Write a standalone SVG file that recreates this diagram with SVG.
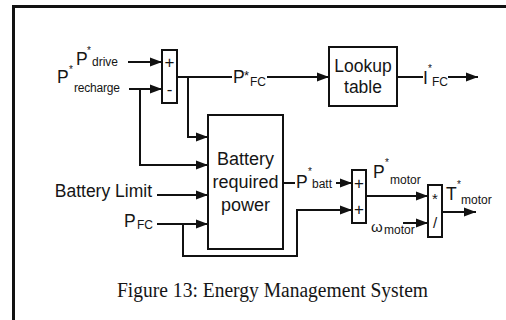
<svg xmlns="http://www.w3.org/2000/svg" width="506" height="320" viewBox="0 0 506 320">
<style>
.ln{fill:none;stroke:#111;stroke-width:2}
.bx{fill:#fff;stroke:#111;stroke-width:2}
.t{font-family:"Liberation Sans",Arial,sans-serif;fill:#151515}
.m{font-size:17.5px}
.s{font-size:12px}
.sup{font-size:10px}
.c{text-anchor:middle}
.cap{font-family:"Liberation Serif","Times New Roman",serif;font-size:20.5px;fill:#151515}
</style>
<defs>
<marker id="ah" markerUnits="userSpaceOnUse" markerWidth="14" markerHeight="12" refX="12" refY="6" orient="auto">
<path d="M0,1.5 L12,6 L0,10.5 Z" fill="#111"/>
</marker>
</defs>
<rect width="506" height="320" fill="#fff"/>
<g id="frame">
<path d="M13.5,320 V6.5 H506" fill="none" stroke="#111" stroke-width="3"/>
</g>
<g id="connectors">
<path class="ln" d="M128,62 H162" marker-end="url(#ah)"/>
<path class="ln" d="M129,89 H162" marker-end="url(#ah)"/>
<path class="ln" d="M140,89 V165 H208" marker-end="url(#ah)"/>
<path class="ln" d="M177,77 H232"/>
<path class="ln" d="M188,77 V137 H208" marker-end="url(#ah)"/>
<path class="ln" d="M267,77 H329" marker-end="url(#ah)"/>
<path class="ln" d="M397,77 H423"/>
<path class="ln" d="M448,77 H478" marker-end="url(#ah)"/>
<path class="ln" d="M157,195 H208" marker-end="url(#ah)"/>
<path class="ln" d="M157,224 H208" marker-end="url(#ah)"/>
<path class="ln" d="M183,224 V256 H297 V210 H352" marker-end="url(#ah)"/>
<path class="ln" d="M283,183 H295"/>
<path class="ln" d="M336,183 H352" marker-end="url(#ah)"/>
<path class="ln" d="M366,196 H428" marker-end="url(#ah)"/>
<path class="ln" d="M403,223 H428" marker-end="url(#ah)"/>
<path class="ln" d="M442,212 H476" marker-end="url(#ah)"/>
</g>
<g id="sum1">
<rect class="bx" x="162" y="50" width="15" height="53"/>
<text class="t c" x="169.5" y="68" font-size="17">+</text>
<text class="t c" x="169.5" y="95" font-size="17">-</text>
</g>
<g id="lookup">
<rect class="bx" x="329" y="47" width="68" height="59"/>
<text class="t m c" x="363" y="72">Lookup</text>
<text class="t m c" x="363" y="93">table</text>
</g>
<g id="battery">
<rect class="bx" x="208" y="115" width="75" height="134"/>
<text class="t c" x="245.5" y="165" font-size="18">Battery</text>
<text class="t c" x="245.5" y="188" font-size="18">required</text>
<text class="t c" x="245.5" y="211" font-size="18">power</text>
</g>
<g id="sum2">
<rect class="bx" x="352" y="170" width="14" height="53"/>
<text class="t c" x="359" y="189" font-size="17">+</text>
<text class="t c" x="359" y="215" font-size="17">+</text>
</g>
<g id="div">
<rect class="bx" x="428" y="185" width="14" height="52"/>
<text class="t c" x="435" y="204" font-size="15">*</text>
<text class="t c" x="435" y="228" font-size="15">/</text>
</g>
<g id="labels">
<text class="t m" x="76" y="65">P</text><text class="t sup" x="87" y="54">*</text><text class="t s" x="92" y="66">drive</text>
<text class="t m" x="57" y="83">P</text><text class="t sup" x="69" y="73">*</text><text class="t s" x="74" y="92" textLength="46">recharge</text>
<text class="t m" x="233" y="83">P</text><text class="t" x="244" y="80" font-size="13">*</text><text class="t s" x="250" y="86">FC</text>
<text class="t m" x="423" y="84">I</text><text class="t sup" x="428" y="72">*</text><text class="t s" x="432" y="86">FC</text>
<text class="t" x="152" y="197" font-size="17.5" text-anchor="end">Battery Limit</text>
<text class="t m" x="124" y="227">P</text><text class="t s" x="137" y="229">FC</text>
<text class="t m" x="296" y="188">P</text><text class="t sup" x="308" y="175">*</text><text class="t s" x="312" y="188">batt</text>
<text class="t m" x="373" y="178">P</text><text class="t sup" x="385" y="166">*</text><text class="t s" x="390" y="184">motor</text>
<text class="t" x="371" y="232" font-size="15">ω</text><text class="t s" x="384" y="234">motor</text>
<text class="t m" x="446" y="200">T</text><text class="t sup" x="457" y="188">*</text><text class="t s" x="461" y="204">motor</text>
</g>
<text class="cap" x="117" y="297" textLength="311" lengthAdjust="spacingAndGlyphs">Figure 13: Energy Management System</text>
</svg>
